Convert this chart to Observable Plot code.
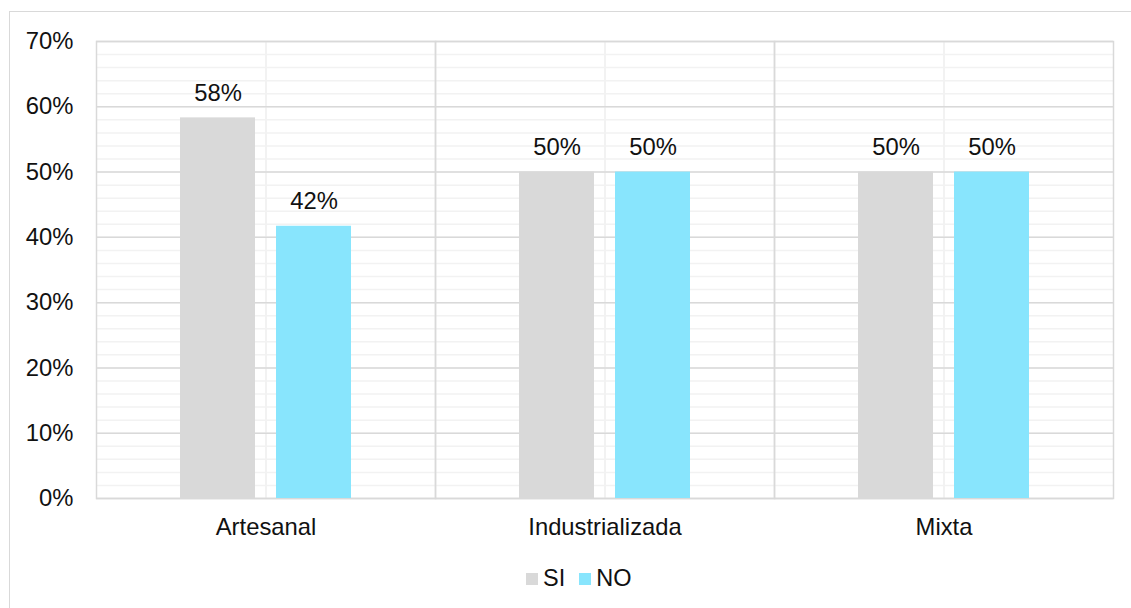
<!DOCTYPE html>
<html>
<head>
<meta charset="utf-8">
<script src="https://cdn.jsdelivr.net/npm/d3@7"></script>
<script src="https://cdn.jsdelivr.net/npm/@observablehq/plot@0.6"></script>
<style>
  html, body { margin: 0; padding: 0; background: #fff; }
  body { width: 1131px; height: 608px; position: relative; overflow: hidden; font-family: "Liberation Sans", Arial, sans-serif; }
  #frame { position: absolute; left: 9px; top: 11px; width: 1200px; height: 700px; border-left: 1.5px solid #d9d9d9; border-top: 1.5px solid #d9d9d9; }
  #chart { position: absolute; left: 0; top: 0; }
  #legend { position: absolute; top: 565px; left: 526px; display: flex; align-items: center; font-size: 23.5px; color: #111; }
  .item { display: flex; align-items: center; margin: 0 14px 0 0; }
  .sw { width: 12px; height: 12px; margin-right: 5px; display: inline-block; }
</style>
</head>
<body>
<div id="frame"></div>
<div id="chart"></div>
<div id="legend"></div>
<script>
const categories = ["Artesanal", "Industrializada", "Mixta"];
const series = ["SI", "NO"];
const siValues = [0.583, 0.5, 0.5];
const noValues = [0.417, 0.5, 0.5];
const colors = ["#d9d9d9", "#88e5fd"];
const yTicks = [0, 0.1, 0.2, 0.3, 0.4, 0.5, 0.6, 0.7];
const yMinorTicks = d3.range(0, 71, 2).map(v => v / 100);

const data = [];
categories.forEach((c, i) => {
  data.push({cat: c, serie: "SI", value: siValues[i]});
  data.push({cat: c, serie: "NO", value: noValues[i]});
});

const fmt = d3.format(".0%");
const font = "Liberation Sans, Arial, sans-serif";
const fs = 23.8;

const chart = Plot.plot({
  width: 1131,
  height: 552,
  marginLeft: 95,
  marginRight: 18,
  marginTop: 41,
  marginBottom: 54,
  style: {fontFamily: font, fontSize: fs + "px", color: "#111", background: "transparent"},
  fx: {domain: categories, padding: 0, label: null},
  x: {domain: series, paddingInner: 0.223, paddingOuter: 0.87, axis: null},
  y: {domain: [0, 0.7], label: null},
  color: {domain: series, range: colors},
  marks: [
    Plot.gridY(yMinorTicks, {stroke: "#f2f2f2", strokeOpacity: 1, strokeWidth: 1.5}),
    Plot.gridFx({stroke: "#f2f2f2", strokeOpacity: 1, strokeWidth: 2}),
    Plot.gridY(yTicks, {stroke: "#d9d9d9", strokeOpacity: 1, strokeWidth: 1.5}),
    Plot.frame({stroke: "#d9d9d9", strokeWidth: 1.5}),
    Plot.axisY(yTicks, {tickFormat: fmt, tickSize: 0, tickPadding: 23, fontSize: fs, fill: "#111"}),
    Plot.axisFx({anchor: "bottom", tickSize: 0, tickPadding: 20, fontSize: fs, fill: "#111", label: null}),
    Plot.barY(data, {fx: "cat", x: "serie", y: "value", fill: "serie"}),
    Plot.text(data, {fx: "cat", x: "serie", y: "value", text: d => fmt(d.value), dy: -25, fontSize: fs, fill: "#111"})
  ]
});
document.getElementById("chart").appendChild(chart);

const legend = document.getElementById("legend");
series.forEach((s, i) => {
  const it = document.createElement("div");
  it.className = "item";
  const sw = document.createElement("span");
  sw.className = "sw";
  sw.style.background = colors[i];
  it.appendChild(sw);
  it.appendChild(document.createTextNode(s));
  legend.appendChild(it);
});
</script>
</body>
</html>
